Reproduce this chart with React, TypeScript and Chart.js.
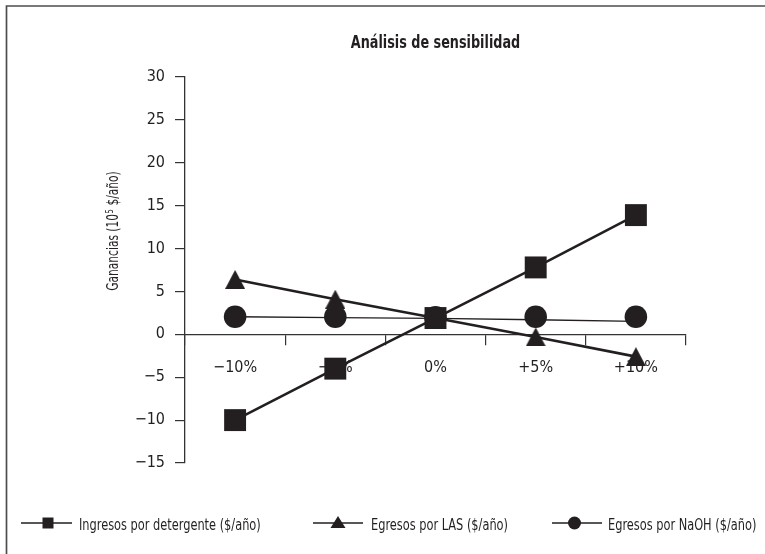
import React, { useEffect, useRef } from 'react';
import { Chart, registerables } from 'chart.js';

Chart.register(...registerables);

const chartTitle = 'Análisis de sensibilidad';
const yTitleParts = ['Ganancias (10', '5', ' $/año)'];
const categories = ['−10%', '−5%', '0%', '+5%', '+10%'];
const detergentValues = [-10, -4, 1.9, 7.8, 13.9];
const lasValues = [6.4, 4.1, 1.9, -0.3, -2.6];
const naohLineValues = [2.05, 1.95, 1.85, 1.7, 1.5];
const naohMarkerValues = [2.05, 2.05, 2.0, 2.05, 2.05];
const yTickValues = [-15, -10, -5, 0, 5, 10, 15, 20, 25, 30];
const seriesLabels = [
  'Ingresos por detergente ($/año)',
  'Egresos por LAS ($/año)',
  'Egresos por NaOH ($/año)',
];

const FONT = "'Liberation Sans Narrow', 'Arial Narrow', 'DejaVu Sans Condensed', 'Noto Sans', sans-serif";
const INK = '#231f20';
const AXIS = '#333333';
const SQUEEZE = 0.79;

function makeTriangle(w: number, h: number, color: string) {
  const c = document.createElement('canvas');
  c.width = w;
  c.height = h;
  const g = c.getContext('2d')!;
  g.fillStyle = color;
  g.beginPath();
  g.moveTo(w / 2, 0);
  g.lineTo(w, h);
  g.lineTo(0, h);
  g.closePath();
  g.fill();
  return c;
}

function squeezedText(
  ctx: CanvasRenderingContext2D,
  text: string,
  x: number,
  y: number,
  font: string,
  align: 'left' | 'center' | 'right'
) {
  ctx.save();
  ctx.font = font;
  ctx.textBaseline = 'alphabetic';
  ctx.textAlign = align;
  ctx.translate(x, y);
  ctx.scale(SQUEEZE, 1);
  ctx.fillText(text, 0, 0);
  ctx.restore();
}

const decorPlugin = {
  id: 'decor',
  afterDraw(chart: any) {
    const ctx = chart.ctx as CanvasRenderingContext2D;
    const area = chart.chartArea;
    ctx.save();
    // outer frame (cut off at right and bottom)
    ctx.strokeStyle = '#4d4d4d';
    ctx.lineWidth = 1.7;
    ctx.beginPath();
    ctx.moveTo(6.5, 560);
    ctx.lineTo(6.5, 6);
    ctx.lineTo(770, 6);
    ctx.stroke();

    ctx.fillStyle = INK;
    // title
    squeezedText(ctx, chartTitle, (area.left + area.right) / 2, 48, `bold 18px ${FONT}`, 'center');

    // y axis title with superscript
    ctx.save();
    ctx.translate(118, 231);
    ctx.rotate(-Math.PI / 2);
    ctx.scale(0.74, 1);
    const mainFont = `16px ${FONT}`;
    const supFont = `10px ${FONT}`;
    ctx.font = mainFont;
    const w0 = ctx.measureText(yTitleParts[0]).width;
    const w2 = ctx.measureText(yTitleParts[2]).width;
    ctx.font = supFont;
    const w1 = ctx.measureText(yTitleParts[1]).width + 1;
    const total = w0 + w1 + w2;
    let x = -total / 2;
    ctx.textAlign = 'left';
    ctx.textBaseline = 'alphabetic';
    ctx.font = mainFont;
    ctx.fillText(yTitleParts[0], x, 0);
    x += w0;
    ctx.font = supFont;
    ctx.fillText(yTitleParts[1], x + 0.5, -5);
    x += w1;
    ctx.font = mainFont;
    ctx.fillText(yTitleParts[2], x, 0);
    ctx.restore();

    // legend
    const ly = 523;
    const items = [
      { x1: 21, x2: 72, mx: 48, tx: 79, kind: 'square' },
      { x1: 313, x2: 363, mx: 338, tx: 371, kind: 'triangle' },
      { x1: 552, x2: 602, mx: 574.5, tx: 608, kind: 'circle' },
    ];
    items.forEach((it, i) => {
      ctx.strokeStyle = INK;
      ctx.lineWidth = 1.3;
      ctx.beginPath();
      ctx.moveTo(it.x1, ly);
      ctx.lineTo(it.x2, ly);
      ctx.stroke();
      ctx.fillStyle = INK;
      ctx.beginPath();
      if (it.kind === 'square') {
        ctx.rect(it.mx - 5.5, ly - 5.5, 11, 11);
      } else if (it.kind === 'triangle') {
        ctx.moveTo(it.mx, ly - 7);
        ctx.lineTo(it.mx + 7.5, ly + 5);
        ctx.lineTo(it.mx - 7.5, ly + 5);
        ctx.closePath();
      } else {
        ctx.arc(it.mx, ly, 6.5, 0, Math.PI * 2);
      }
      ctx.fill();
      squeezedText(ctx, seriesLabels[i], it.tx, 530, `16px ${FONT}`, 'left');
    });
    ctx.restore();
  },
};

export default function App() {
  const ref = useRef<HTMLCanvasElement | null>(null);

  useEffect(() => {
    if (!ref.current) return;
    const tri = makeTriangle(20, 19, INK);
    const chart = new Chart(ref.current, {
      type: 'line',
      data: {
        labels: categories,
        datasets: [
          {
            label: seriesLabels[0],
            data: detergentValues,
            borderColor: INK,
            borderWidth: 2.6,
            backgroundColor: INK,
            pointStyle: 'rect',
            pointRadius: 15.5,
            pointBackgroundColor: INK,
            pointBorderWidth: 0,
            tension: 0,
            order: 1,
            clip: false,
          },
          {
            label: seriesLabels[1],
            data: lasValues,
            borderColor: INK,
            borderWidth: 2.6,
            backgroundColor: INK,
            pointStyle: tri as any,
            pointRadius: 10,
            pointBackgroundColor: INK,
            pointBorderWidth: 0,
            tension: 0,
            order: 2,
            clip: false,
          },
          {
            label: seriesLabels[2],
            data: naohLineValues,
            borderColor: INK,
            borderWidth: 1.3,
            pointRadius: 0,
            tension: 0,
            order: 3,
            clip: false,
          },
          {
            label: seriesLabels[2] + ' markers',
            data: naohMarkerValues,
            showLine: false,
            borderColor: INK,
            backgroundColor: INK,
            pointStyle: 'circle',
            pointRadius: 11.3,
            pointBackgroundColor: INK,
            pointBorderWidth: 0,
            order: 3,
            clip: false,
          },
        ],
      },
      options: {
        animation: false,
        responsive: false,
        events: [],
        layout: { padding: { left: 0, top: 77, right: 79, bottom: 91 } },
        plugins: {
          legend: { display: false },
          title: { display: false },
          tooltip: { enabled: false },
        },
        scales: {
          x: {
            type: 'category',
            position: { y: 0 } as any,
            offset: true,
            afterFit: (scale: any) => {
              scale.height = 0;
            },
            grid: {
              offset: true,
              drawOnChartArea: false,
              drawTicks: true,
              tickLength: 10,
              color: AXIS,
              lineWidth: 1.2,
            },
            border: { display: true, color: AXIS, width: 1.3 },
            ticks: {
              color: INK,
              padding: 14,
              font: { family: FONT, size: 16 },
              maxRotation: 0,
              autoSkip: false,
            },
          },
          y: {
            type: 'linear',
            position: 'left',
            min: yTickValues[0],
            max: yTickValues[yTickValues.length - 1],
            afterFit: (scale: any) => {
              scale.width = 185;
            },
            grid: {
              drawOnChartArea: false,
              drawTicks: true,
              tickLength: 10,
              color: AXIS,
              lineWidth: 1.2,
            },
            border: { display: true, color: AXIS, width: 1.3 },
            ticks: {
              stepSize: yTickValues[1] - yTickValues[0],
              color: INK,
              padding: 10,
              font: { family: FONT, size: 16 },
              callback: (v: any) => {
                const n = Number(v);
                return n < 0 ? '−' + Math.abs(n) : String(n);
              },
            },
          },
        },
      },
      plugins: [decorPlugin],
    });
    return () => chart.destroy();
  }, []);

  return (
    <div style={{ position: 'absolute', left: 0, top: 0, width: 765, height: 554, background: '#fff' }}>
      <canvas ref={ref} width={765} height={554} style={{ display: 'block' }} />
    </div>
  );
}
